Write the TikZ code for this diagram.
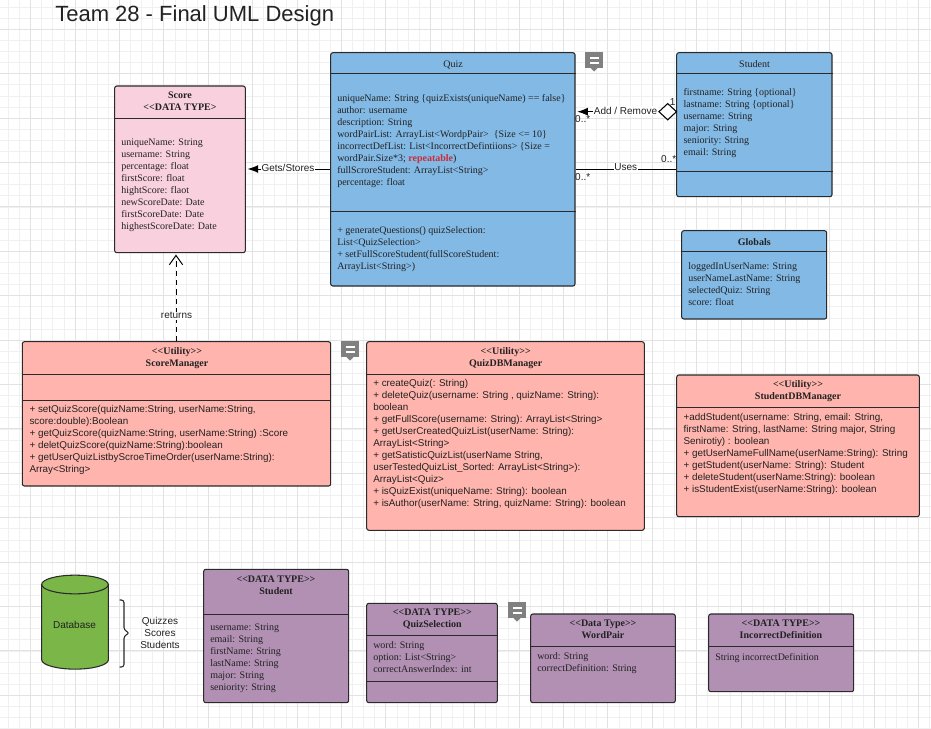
\documentclass[tikz,border=0pt]{standalone}
\usepackage{fontspec}
\setmainfont{Liberation Serif}
\setsansfont{Liberation Sans}
\usetikzlibrary{shapes.geometric,arrows.meta,fit}
\definecolor{gridmajor}{HTML}{E2E2E2}
\definecolor{gridminor}{HTML}{F0F0F0}
\definecolor{blueclass}{HTML}{83B9E5}
\definecolor{pinkclass}{HTML}{F9D0DE}
\definecolor{salmonclass}{HTML}{FFB5AD}
\definecolor{purpleclass}{HTML}{B190B3}
\definecolor{dbgreen}{HTML}{7AB648}
\definecolor{inkdark}{HTML}{222222}
\definecolor{linedark}{HTML}{2A2A2A}
\definecolor{notegray}{HTML}{808080}
\definecolor{redmark}{HTML}{C92D39}
\newcommand{\firststrut}{\leavevmode\vrule height 6.3pt depth 0pt width 0pt\relax}
\tikzset{
  classbox/.style={draw=linedark,line width=0.8pt,rounded corners=1.6pt,inner sep=0pt,fit={#1}},
  divline/.style={draw=linedark,line width=0.8pt},
  attrtext/.style={anchor=north west,yshift=3.1pt,inner sep=0pt,align=left,text=inkdark,
    font=\rmfamily\fontsize{7.5pt}{9pt}\selectfont,execute at begin node=\firststrut},
  methtext/.style={attrtext,font=\sffamily\fontsize{7.4pt}{9pt}\selectfont},
  headtext/.style={anchor=north,yshift=3.1pt,inner sep=0pt,align=center,text=inkdark,
    font=\rmfamily\bfseries\fontsize{7.5pt}{9pt}\selectfont,execute at begin node=\firststrut},
  plainhead/.style={headtext,font=\rmfamily\fontsize{7.5pt}{9pt}\selectfont},
  linklabel/.style={inner sep=0.6pt,fill=white,text=inkdark,font=\sffamily\fontsize{7.5pt}{9pt}\selectfont},
  multlabel/.style={inner sep=0pt,text=inkdark,font=\sffamily\fontsize{7.5pt}{9pt}\selectfont},
  conn/.style={draw=black,line width=0.75pt},
  filledtip/.style={-{Latex[length=8pt,width=6pt]}},
  opentip/.style={-{Straight Barb[length=7pt,width=10pt,line width=0.75pt]}},
}
\newcommand{\classnode}[6]{\node[classbox={(#2,#3)(#4,#5)},fill=#6] (#1) {};}
\newcommand{\divider}[2]{\draw[divline] (#1.west |- 0,#2) -- (#1.east |- 0,#2);}
\newcommand{\noteicon}[3]{%
  \fill[notegray] (#2,#3) rectangle ++(18,16);
  \fill[notegray] (#2+5.5,#3+16) -- (#2+12.5,#3+16) -- (#2+9,#3+19.5) -- cycle;
  \fill[white] (#2+4.5,#3+5) rectangle (#2+13.5,#3+7.2);
  \fill[white] (#2+4.5,#3+9.6) rectangle (#2+13.5,#3+11.8);
  \coordinate (#1) at (#2,#3);}
\begin{document}
\begin{tikzpicture}[x=0.75pt,y=-0.75pt]
\useasboundingbox (0,0) rectangle (931,728);
\fill[white] (0,0) rectangle (931,728);
% grid
\foreach \k in {0,...,84} {
  \draw[gridminor,line width=0.5pt] ({8.4+11.1*\k},0) -- ({8.4+11.1*\k},728);
}
\foreach \k in {0,...,65} {
  \draw[gridminor,line width=0.5pt] (0,{7.1+11.1*\k}) -- (931,{7.1+11.1*\k});
}
\foreach \k in {0,...,20} {
  \draw[gridmajor,line width=0.75pt] ({30.6+44.4*\k},0) -- ({30.6+44.4*\k},728);
}
\foreach \k in {0,...,15} {
  \draw[gridmajor,line width=0.75pt] (0,{29.3+44.4*\k}) -- (931,{29.3+44.4*\k});
}
% title
\node[anchor=west,inner sep=0pt,text=inkdark,font=\sffamily\fontsize{16.5pt}{20pt}\selectfont] (title) at (55,15.5) {Team 28 - Final UML Design};
% boxes
\classnode{quiz}{330.7}{52.7}{575}{286}{blueclass}
\divider{quiz}{73.7}\divider{quiz}{211.7}
\classnode{student}{676.7}{52.7}{832}{196.7}{blueclass}
\divider{student}{73.7}\divider{student}{171.7}
\classnode{score}{114.7}{86}{245.3}{252.7}{pinkclass}
\divider{score}{118.3}
\classnode{scoremgr}{22.3}{341.7}{330.7}{486}{salmonclass}
\divider{scoremgr}{374.7}\divider{scoremgr}{400.7}
\classnode{quizdb}{366.7}{341.7}{644.3}{530.3}{salmonclass}
\divider{quizdb}{374.3}
\classnode{globals}{681.7}{230.7}{826.7}{319}{blueclass}
\divider{globals}{251.7}
\classnode{studentdb}{676.7}{375}{919.3}{516.7}{salmonclass}
\divider{studentdb}{407.7}
\classnode{studentdt}{203.7}{569.3}{348.7}{702.7}{purpleclass}
\divider{studentdt}{614.3}
\classnode{quizsel}{366.7}{603.3}{497.3}{702.7}{purpleclass}
\divider{quizsel}{635.3}\divider{quizsel}{681.7}
\classnode{wordpair}{530.7}{614}{675.3}{702.7}{purpleclass}
\divider{wordpair}{646.7}
\classnode{incdef}{708.7}{614}{853.7}{691.7}{purpleclass}
\divider{incdef}{646.7}
% Quiz
\node[plainhead] (quizhead) at (453,62.7) {Quiz};
\node[attrtext] (quizattrs) at (337,98.7) {uniqueName: String \{quizExists(uniqueName) == false\}\\author: username\\description: String\\wordPairList: ArrayList<WordpPair>\ \ \{Size <= 10\}\\incorrectDefList: List<IncorrectDefintiions> \{Size =\\wordPair.Size*3; \textcolor{redmark}{\textbf{repeatable}})\\fullScroreStudent: ArrayList<String>\\percentage: float};
\node[attrtext] (quizmeth) at (337,230) {+ generateQuestions() quizSelection:\\List<QuizSelection>\\+ setFullScoreStudent(fullScoreStudent:\\ArrayList<String>)};
% Student
\node[plainhead] (studenthead) at (754.5,62.7) {Student};
\node[attrtext] (studentattrs) at (683.3,92) {firstname: String \{optional\}\\lastname: String \{optional\}\\username: String\\major: String\\seniority: String\\email: String};
% Score
\node[headtext] (scorehead) at (180,96) {Score\\<{}<DATA TYPE>};
\node[attrtext] (scoreattrs) at (121,142.7) {uniqueName: String\\username: String\\percentage: float\\firstScore: float\\hightScore: flaot\\newScoreDate: Date\\firstScoreDate: Date\\highestScoreDate: Date};
% ScoreManager
\node[headtext] (scoremgrhead) at (177,351.7) {<{}<Utility>{}>\\ScoreManager};
\node[methtext] (scoremgrmeth) at (29.3,409.7) {+ setQuizScore(quizName:String, userName:String,\\score:double):Boolean\\+ getQuizScore(quizName:String, userName:String) :Score\\+ deletQuizScore(quizName:String):boolean\\+ getUserQuizListbyScroeTimeOrder(userName:String):\\Array<String>};
% QuizDBManager
\node[headtext] (quizdbhead) at (505.7,351.7) {<{}<Utility>{}>\\QuizDBManager};
\node[methtext] (quizdbmeth) at (373,383.7) {+ createQuiz(: String)\\+ deleteQuiz(username: String , quizName: String):\\boolean\\+ getFullScore(username: String): ArrayList<String>\\+ getUserCreatedQuizList(userName: String):\\ArrayList<String>\\+ getSatisticQuizList(userName String,\\userTestedQuizList\_Sorted: ArrayList<String>):\\ArrayList<Quiz>\\+ isQuizExist(uniqueName: String): boolean\\+ isAuthor(userName: String, quizName: String): boolean};
% Globals
\node[headtext] (globalshead) at (754.3,240.7) {Globals};
\node[attrtext] (globalsattrs) at (688,266.7) {loggedInUserName: String\\userNameLastName: String\\selectedQuiz: String\\score: float};
% StudentDBManager
\node[headtext] (studentdbhead) at (798,384.3) {<{}<Utility>{}>\\StudentDBManager};
\node[methtext] (studentdbmeth) at (683.3,417) {+addStudent(username: String, email: String,\\firstName: String, lastName: String major, String\\Senirotiy) : boolean\\+ getUserNameFullName(userName:String): String\\+ getStudent(userName: String): Student\\+ deleteStudent(userName:String): boolean\\+ isStudentExist(userName:String): boolean};
% data types
\node[headtext] (studentdthead) at (276,580) {<{}<DATA TYPE>{}>\\Student};
\node[attrtext] (studentdtattrs) at (210,628) {username: String\\email: String\\firstName: String\\lastName: String\\major: String\\seniority: String};
\node[headtext] (quizselhead) at (432.3,612.7) {<{}<DATA TYPE>{}>\\QuizSelection};
\node[attrtext] (quizselattrs) at (373,645.7) {word: String\\option: List<String>\\correctAnswerIndex: int};
\node[headtext] (wordpairhead) at (603,623.7) {<{}<Data Type>{}>\\WordPair};
\node[attrtext] (wordpairattrs) at (537,656) {word: String\\correctDefinition: String};
\node[headtext] (incdefhead) at (781,623.7) {<{}<DATA TYPE>{}>\\IncorrectDefinition};
\node[attrtext] (incdefattrs) at (715,656) {String incorrectDefinition};
% database
\draw[fill=dbgreen,draw=linedark,line width=0.8pt] (41.7,584.5) -- (41.7,659.8) arc[start angle=180,end angle=360,x radius=25pt,y radius=7pt] -- (108.3,584.5) arc[start angle=0,end angle=180,x radius=25pt,y radius=7pt] -- cycle;
\draw[draw=linedark,line width=0.8pt] (41.7,584.5) arc[start angle=180,end angle=360,x radius=25pt,y radius=7pt];
\node[multlabel] (dblabel) at (74.5,624.5) {Database};
\draw[draw=linedark,line width=0.8pt,rounded corners=2pt] (119.5,600) -- (124,600) -- (124,630) -- (129.5,633) -- (124,636) -- (124,667) -- (119.5,667);
\node[multlabel,align=center] (dbcontents) at (160,632.7) {Quizzes\\Scores\\Students};
% connectors
\node[draw=black,fill=white,line width=0.8pt,diamond,inner sep=0pt,minimum width=13.5pt,minimum height=12.5pt] (agg) at (667.7,111.7) {};
\draw[conn,filledtip,shorten >=1.3pt] (agg.west) -- (quiz.east |- agg.west) node[linklabel,midway,yshift=0.8pt,xshift=6.5pt] (addlabel) {Add / Remove};
\draw[conn] (quiz.east |- 0,169.3) -- (student.west |- 0,169.3) node[linklabel,midway,yshift=1.3pt] (useslabel) {Uses};
\draw[conn,filledtip,shorten >=1.3pt] (quiz.west |- 0,169) -- (score.east |- 0,169) node[linklabel,midway,yshift=1pt] (getslabel) {Gets/Stores};
\draw[conn,opentip,dash pattern=on 4pt off 3pt,shorten >=1pt] (scoremgr.north -| 176,0) -- (score.south -| 176,0);
\node[linklabel] (returnslabel) at (176.5,315.7) {returns};
\node[multlabel] (m1) at (582.7,118.7) {0..*};
\node[multlabel] (m2) at (672.7,101.7) {1};
\node[multlabel] (m3) at (668.7,159.3) {0..*};
\node[multlabel] (m4) at (582.7,176.7) {0..*};
% note icons
\noteicon{noteA}{585}{52}
\noteicon{noteB}{341}{341}
\noteicon{noteC}{508}{602}
\end{tikzpicture}
\end{document}
